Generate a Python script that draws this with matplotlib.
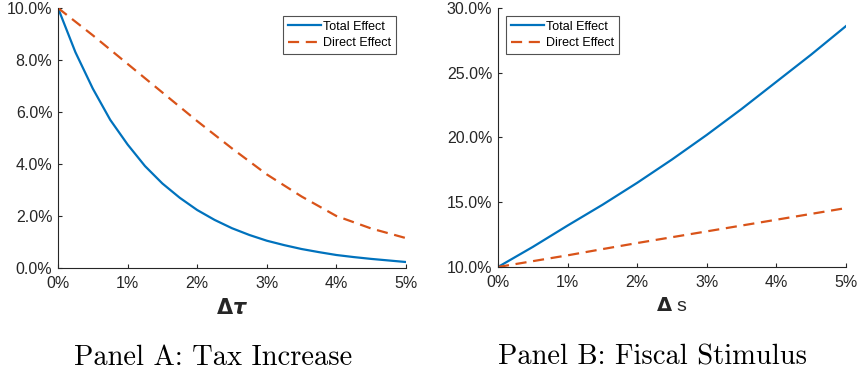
import matplotlib.pyplot as plt
import numpy as np
from matplotlib.ticker import FormatStrFormatter

# Panel A: tax increase (values in %)
tau_total = [0, 0.25, 0.5, 0.75, 1.0, 1.25, 1.5, 1.75, 2.0, 2.25, 2.5,
             2.75, 3.0, 3.25, 3.5, 3.75, 4.0, 4.25, 4.5, 4.75, 5.0]
total_a = [10.0, 8.3, 6.9, 5.7, 4.75, 3.92, 3.25, 2.7, 2.23, 1.85, 1.53,
           1.27, 1.05, 0.88, 0.73, 0.61, 0.5, 0.42, 0.35, 0.29, 0.23]
tau_direct = [0, 0.5, 1.0, 1.5, 2.0, 2.5, 3.0, 3.5, 4.0, 4.5, 5.0]
direct_a = [10.0, 8.95, 7.85, 6.75, 5.65, 4.6, 3.6, 2.75, 2.0, 1.52, 1.15]

# Panel B: fiscal stimulus (values in %)
s_vals = [0, 0.5, 1.0, 1.5, 2.0, 2.5, 3.0, 3.5, 4.0, 4.5, 5.0]
total_b = [10.0, 11.55, 13.2, 14.8, 16.5, 18.3, 20.2, 22.2, 24.3, 26.4, 28.6]
direct_b = [10.0, 10.45, 10.9, 11.38, 11.85, 12.3, 12.75, 13.2, 13.65, 14.1, 14.55]

blue = '#0072BD'
orange = '#D95319'

plt.rcParams['font.family'] = ['Liberation Sans', 'DejaVu Sans']

fig = plt.figure(figsize=(8.57, 3.73), dpi=100)
ax1 = fig.add_axes([0.0677, 0.2815, 0.406, 0.697])
ax2 = fig.add_axes([0.5811, 0.2842, 0.406, 0.6944])

ax1.plot(tau_total, total_a, color=blue, lw=1.6, label='Total Effect')
ax1.plot(tau_direct, direct_a, color=orange, lw=1.6, ls=(0, (5, 3)), label='Direct Effect')
ax1.set_xlim(0, 5)
ax1.set_ylim(0, 10)
ax1.set_yticks(np.arange(0, 10.1, 2))
ax1.yaxis.set_major_formatter(FormatStrFormatter('%.1f%%'))

ax2.plot(s_vals, total_b, color=blue, lw=1.6, label='Total Effect')
ax2.plot(s_vals, direct_b, color=orange, lw=1.6, ls=(0, (5, 3)), label='Direct Effect')
ax2.set_xlim(0, 5)
ax2.set_ylim(10, 30)
ax2.set_yticks(np.arange(10, 30.1, 5))
ax2.yaxis.set_major_formatter(FormatStrFormatter('%.1f%%'))

for ax in (ax1, ax2):
    ax.set_xticks(range(6))
    ax.xaxis.set_major_formatter(FormatStrFormatter('%d%%'))
    ax.spines['top'].set_visible(False)
    ax.spines['right'].set_visible(False)
    for sp in ('left', 'bottom'):
        ax.spines[sp].set_color('#262626')
        ax.spines[sp].set_linewidth(0.8)
    ax.tick_params(direction='in', length=3, width=0.8, colors='#262626',
                   labelsize=11.5)
    ax.tick_params(axis='x', pad=6)
    ax.tick_params(axis='y', pad=4)

leg_kw = dict(fontsize=9, frameon=True, fancybox=False, edgecolor='#262626',
              handlelength=2.6, handletextpad=0.15, borderpad=0.4,
              labelspacing=0.35, borderaxespad=0.4)
l1 = ax1.legend(loc='upper right', bbox_to_anchor=(0.985, 0.99), **leg_kw)
l2 = ax2.legend(loc='upper left', bbox_to_anchor=(0.01, 0.99), **leg_kw)
for l in (l1, l2):
    l.get_frame().set_linewidth(0.8)

ax1.set_xlabel(r'$\mathbf{\Delta}\mathbfit{\tau}$', fontsize=15, color='#262626', labelpad=5)
ax2.set_xlabel(r'$\mathbf{\Delta}$ s', fontsize=14, color='#262626', labelpad=5)

fig.text(0.2485, 0.022, 'Panel A: Tax Increase', family='cmr10', fontsize=20.5,
         ha='center', va='baseline')
fig.text(0.761, 0.022, 'Panel B: Fiscal Stimulus', family='cmr10', fontsize=20.5,
         ha='center', va='baseline')

plt.savefig('out.png', dpi=100)
